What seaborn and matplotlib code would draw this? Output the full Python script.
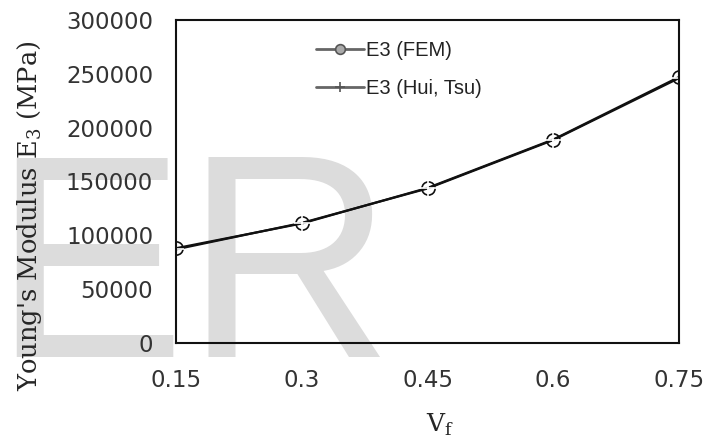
import matplotlib
matplotlib.use('Agg')
import matplotlib.pyplot as plt
import seaborn as sns

# data
vf = [0.15, 0.3, 0.45, 0.6, 0.75]
e3_fem = [88000, 111000, 144000, 189000, 247000]
e3_hui_tsu = [87000, 111500, 143500, 188500, 246000]
x_ticks = [0.15, 0.3, 0.45, 0.6, 0.75]
x_tick_labels = ['0.15', '0.3', '0.45', '0.6', '0.75']
y_ticks = [0, 50000, 100000, 150000, 200000, 250000, 300000]

sns.set_style('white')
plt.rcParams['font.family'] = ['DejaVu Sans']

fig = plt.figure(figsize=(7.23, 4.45), dpi=100)
ax = fig.add_axes([176 / 723, 1 - 343 / 445, (679 - 176) / 723, (343 - 20) / 445])
ax.set_facecolor('none')

# watermark behind the chart
fig.text(-0.011, 1 - 357 / 445, 'ER', fontsize=208, family='Liberation Sans',
         color='#dcdcdc', ha='left', va='baseline', zorder=-1)

sns.lineplot(x=vf, y=e3_fem, ax=ax, color='#111111', linewidth=1.6,
             marker='o', markersize=9.5, markerfacecolor='none',
             markeredgecolor='#111111', markeredgewidth=1.2, label='E3 (FEM)')
sns.lineplot(x=vf, y=e3_hui_tsu, ax=ax, color='#111111', linewidth=1.6,
             marker='+', markersize=11, markeredgewidth=1.2, label='E3 (Hui, Tsu)')

ax.set_xlim(0.15, 0.75)
ax.set_ylim(0, 300000)
ax.set_xticks(x_ticks)
ax.set_xticklabels(x_tick_labels)
ax.set_yticks(y_ticks)
ax.set_yticklabels([str(v) for v in y_ticks])
ax.tick_params(axis='both', direction='out', length=7.5, width=1.5, color='#222222',
               labelsize=16.5, labelcolor='#333333')
ax.tick_params(axis='x', pad=11)
ax.tick_params(axis='y', pad=9)
for sp in ax.spines.values():
    sp.set_visible(True)
    sp.set_color('#111111')
    sp.set_linewidth(1.5)

ax.set_xlabel('V$_\\mathregular{f}$', family='DejaVu Serif', fontsize=18, va='center')
ax.xaxis.set_label_coords(0.525, -0.255)
ax.set_ylabel("Young's Modulus E$_\\mathregular{3}$ (MPa)", family='DejaVu Serif',
              fontsize=18.5, va='center')
ax.yaxis.set_label_coords(-0.292, 0.393)

leg = ax.legend(loc='upper left', bbox_to_anchor=(0.278, 0.935), frameon=False,
                borderaxespad=0, borderpad=0,
                prop={'family': 'Liberation Sans', 'size': 14.5},
                handlelength=2.4, handletextpad=0.1, labelspacing=0.95)
for h in leg.get_lines():
    h.set_color('#666666')
    h.set_linewidth(2)
    h.set_markersize(7)
    h.set_markeredgecolor('#555555')
    if h.get_marker() == 'o':
        h.set_markerfacecolor('#aaaaaa')
for t in leg.get_texts():
    t.set_color('#222222')

fig.savefig('out.png', dpi=100)
